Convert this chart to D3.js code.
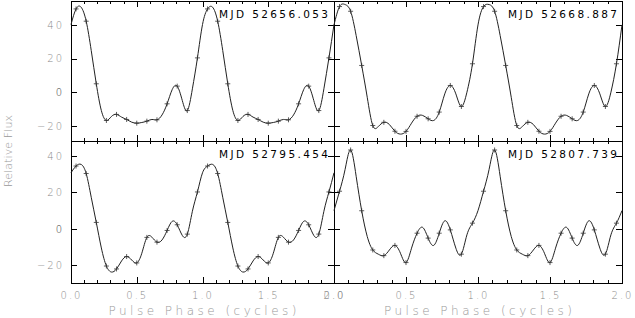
<!DOCTYPE html>
<html>
<head>
<meta charset="utf-8">
<script src="https://cdn.jsdelivr.net/npm/d3@7"></script>
<style>
  body { margin: 0; background: #fff; }
  svg { display: block; }
</style>
</head>
<body>
<script>
// Pulse profiles, one cycle in 13 phase bins, shown twice (0-2 cycles).
// bin*  = binned flux at bin centres (drawn with "+")
// edge* = value of the smooth fit at the bin edges
const mjdLabels = ["MJD 52656.053", "MJD 52668.887", "MJD 52795.454", "MJD 52807.739"];

const bin52656  = [49.5, 42.2, 5.0, -16.8, -13.2, -16.2, -18.4, -17.2, -16.4, -6.9, 3.6, -10.9, 20.4];
const edge52656 = [40.2, 50.5, 24.8, -10.9, -14.4, -14.8, -17.8, -18.0, -16.2, -13.5, 1.5, -4.9, 2.0];

const bin52668  = [50.9, 48.1, 15.9, -19.8, -17.9, -23.2, -23.3, -14.3, -15.8, -11.8, 4.0, -8.5, 16.9];
const edge52668 = [40.0, 52.1, 33.7, -3.0, -20.4, -19.2, -24.9, -18.4, -13.8, -16.8, -1.0, -1.0, 0.0];

const bin52795  = [34.4, 30.3, 3.5, -20.4, -22.0, -15.2, -18.7, -4.7, -7.3, -0.9, 2.2, -2.9, 20.2];
const edge52795 = [30.7, 35.3, 17.3, -10.5, -23.7, -17.6, -17.1, -13.4, -4.6, -6.1, 4.1, -3.6, 9.6];

const bin52807  = [20.6, 43.2, 9.9, -11.6, -14.7, -9.1, -18.5, -2.4, -5.1, -2.4, -0.6, -13.9, 3.1];
const edge52807 = [10.0, 32.5, 28.8, -4.2, -13.9, -11.6, -13.4, -10.6, 0.8, -9.1, 4.4, -10.6, -3.3];

const yTickValues = [-20, 0, 20, 40];
const xMajorTicks = [0, 0.5, 1, 1.5, 2];
const xMinorTicks = d3.range(0, 2.0001, 0.1).map(d => +d.toFixed(1));

const binsList = [bin52656, bin52668, bin52795, bin52807];
const edgesList = [edge52656, edge52668, edge52795, edge52807];

const width = 635, height = 318;
const font = "'DejaVu Sans', sans-serif";

const svg = d3.select("body").append("svg")
  .attr("width", width)
  .attr("height", height);

// column x ranges and row y ranges (pixels)
const colRange = [[71, 334], [334, 622]];
const rowRange = [[140.5, 0.5], [283, 140.5]];
const rowDomain = [[-28.7, 54.5], [-29.7, 48.4]];

const nBins = 13;

function profilePoints(bins, edges) {
  const pts = [];
  for (let c = 0; c < 2; c++) {
    for (let i = 0; i < nBins; i++) {
      pts.push({ phase: c + i / nBins, flux: edges[i] });
      pts.push({ phase: c + (i + 0.5) / nBins, flux: bins[i], bin: true });
    }
  }
  pts.push({ phase: 2, flux: edges[0] });
  return pts;
}

function styleAxis(g) {
  g.select(".domain").attr("stroke", "#000").attr("stroke-width", 1);
  g.selectAll(".tick line").attr("stroke", "#000").attr("stroke-width", 1);
  g.attr("shape-rendering", "crispEdges");
}

for (let p = 0; p < 4; p++) {
  const row = Math.floor(p / 2), col = p % 2;
  const x = d3.scaleLinear().domain([0, 2]).range(colRange[col]);
  const y = d3.scaleLinear().domain(rowDomain[row]).range(rowRange[row]);
  const [x0, x1] = colRange[col];
  const [yb, yt] = rowRange[row];

  const g = svg.append("g");

  // minor x ticks, bottom and top
  g.append("g").attr("transform", `translate(0,${yb})`)
    .call(d3.axisBottom(x).tickValues(xMinorTicks).tickSizeInner(-3).tickSizeOuter(0).tickFormat(""))
    .call(styleAxis);
  g.append("g").attr("transform", `translate(0,${yt})`)
    .call(d3.axisTop(x).tickValues(xMinorTicks).tickSizeInner(-3).tickSizeOuter(0).tickFormat(""))
    .call(styleAxis);

  // major x ticks
  const xb = g.append("g").attr("transform", `translate(0,${yb})`)
    .call(d3.axisBottom(x).tickValues(xMajorTicks).tickSizeInner(-6).tickSizeOuter(0)
      .tickPadding(9).tickFormat(row === 1 ? d3.format(".1f") : ""))
    .call(styleAxis);
  g.append("g").attr("transform", `translate(0,${yt})`)
    .call(d3.axisTop(x).tickValues(xMajorTicks).tickSizeInner(-6).tickSizeOuter(0).tickFormat(""))
    .call(styleAxis);

  // y axes, left and right
  const yl = g.append("g").attr("transform", `translate(${x0},0)`)
    .call(d3.axisLeft(y).tickValues(yTickValues).tickSizeInner(-6).tickSizeOuter(0)
      .tickPadding(7).tickFormat(col === 0 ? (d => d < 0 ? "\u2212" + Math.abs(d) : d) : ""))
    .call(styleAxis);
  g.append("g").attr("transform", `translate(${x1},0)`)
    .call(d3.axisRight(y).tickValues(yTickValues).tickSizeInner(-6).tickSizeOuter(0).tickFormat(""))
    .call(styleAxis);

  [xb, yl].forEach(a => a.selectAll("text")
    .attr("font-family", font)
    .attr("font-size", 10)
    .attr("font-weight", 200)
    .attr("letter-spacing", 2)
    .attr("fill", d => d === 0 && a === yl ? "#333" : "#888"));

  // profile curve
  const pts = profilePoints(binsList[p], edgesList[p]);
  const line = d3.line()
    .x(d => x(d.phase))
    .y(d => y(d.flux))
    .curve(d3.curveNatural);

  g.append("path")
    .datum(pts)
    .attr("d", line)
    .attr("fill", "none")
    .attr("stroke", "#222")
    .attr("stroke-width", 1);

  // binned points as small plus signs
  g.append("g").selectAll("path")
    .data(pts.filter(d => d.bin))
    .join("path")
    .attr("transform", d => `translate(${x(d.phase)},${y(d.flux)})`)
    .attr("d", "M-2.5,0H2.5M0,-2.5V2.5")
    .attr("stroke", "#333")
    .attr("stroke-width", 0.8);

  // date label
  g.append("text")
    .attr("x", col === 0 ? 219 : 508)
    .attr("y", row === 0 ? 17.5 : 158)
    .attr("textLength", 109)
    .attr("lengthAdjust", "spacing")
    .attr("font-family", font)
    .attr("font-size", 10.5)
    .attr("fill", "#000")
    .text(mjdLabels[p]);

  // x title
  if (row === 1) {
    g.append("text")
      .attr("x", (x0 + x1) / 2 - 94)
      .attr("y", 315)
      .attr("textLength", 188)
      .attr("lengthAdjust", "spacing")
      .attr("font-family", font)
      .attr("font-size", 12)
      .attr("font-weight", 200)
      .attr("fill", "#999")
      .text("Pulse Phase (cycles)");
  }
}

// y title
svg.append("text")
  .attr("transform", "translate(12,187) rotate(-90)")
  .attr("textLength", 72)
  .attr("lengthAdjust", "spacing")
  .attr("font-family", font)
  .attr("font-size", 11)
  .attr("font-weight", 200)
  .attr("fill", "#999")
  .text("Relative Flux");
</script>
</body>
</html>
